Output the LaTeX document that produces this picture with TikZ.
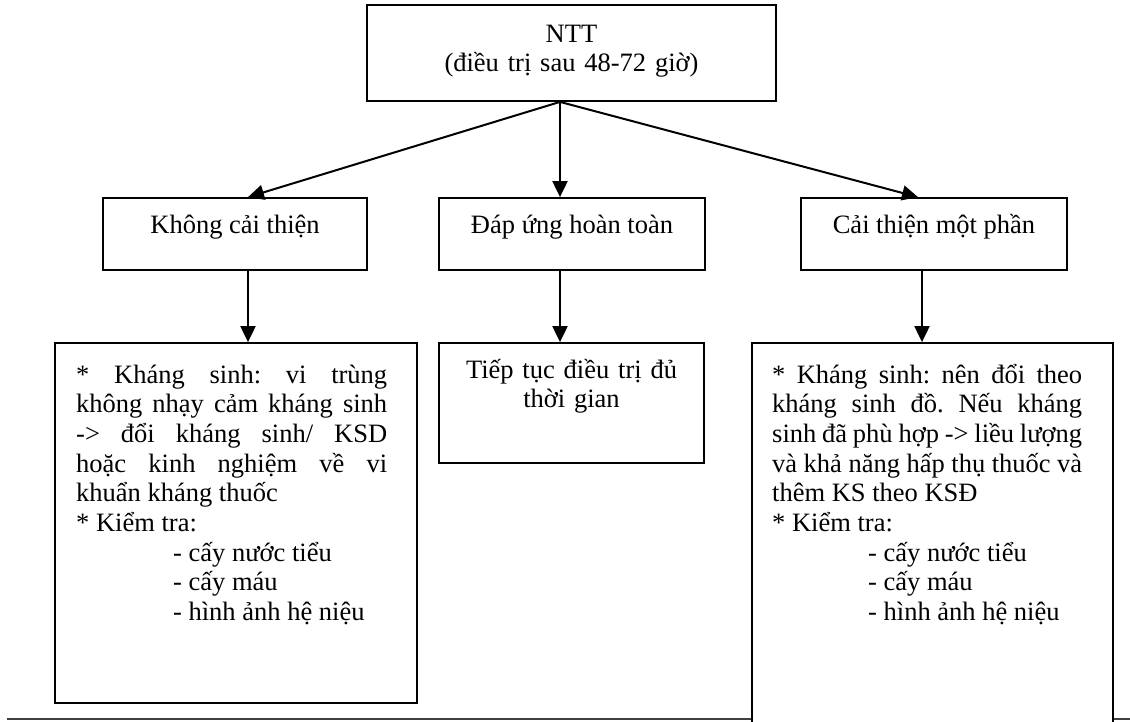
\documentclass[tikz,border=0pt]{standalone}
\usepackage{fontspec}
\setmainfont{Liberation Serif}
\usetikzlibrary{arrows.meta,calc}
\begin{document}
\begin{tikzpicture}[x=1pt,y=-1pt,
  box/.style={draw,line width=1.8pt,inner sep=0pt,fill=white},
  arr/.style={line width=2pt,-{Triangle[length=16pt,width=15pt]}},
  txt/.style={inner sep=0pt,font=\fontsize{26.5pt}{29.7pt}\selectfont\frenchspacing},
]
\useasboundingbox (0,0) rectangle (1130,721);
\begin{scope}
\clip (0,0) rectangle (1130,721);
% page rule at the bottom
\draw[line width=2pt,black!75] (7,719) -- (1130,719);
% boxes
\node[box,minimum width=409pt,minimum height=96pt] (top) at (571.5,53) {};
\node[box,minimum width=264pt,minimum height=72pt] (ka) at (235,234) {};
\node[box,minimum width=266pt,minimum height=72pt] (da) at (572,234) {};
\node[box,minimum width=266pt,minimum height=72pt] (ct) at (934,234) {};
\node[box,minimum width=362pt,minimum height=360pt] (kb) at (236,523) {};
\node[box,minimum width=265pt,minimum height=120pt] (db) at (571.5,403) {};
\node[box,minimum width=361pt,minimum height=402pt] (cb) at (932.5,544) {};
% texts
\node[txt,anchor=base,text width=400pt,align=center] (toptxt) at (571.5,42)
  {NTT\\(điều trị sau 48-72 giờ)};
\node[txt,anchor=base] (katxt) at (235,233) {Không cải thiện};
\node[txt,anchor=base] (datxt) at (572,233) {Đáp ứng hoàn toàn};
\node[txt,anchor=base] (cttxt) at (934,233) {Cải thiện một phần};
\node[txt,anchor=base,text width=260pt,align=center] (dbtxt) at (571.5,378)
  {Tiếp tục điều trị đủ\\thời gian};
\node[txt,anchor=base west,text width=311pt,align=justify] (kbtxt) at (76,383)
  {\makebox[311pt][s]{* Kháng sinh: vi trùng}\\
   \makebox[311pt][s]{không nhạy cảm kháng sinh}\\
   \makebox[311pt][s]{-> đổi kháng sinh/ KSD}\\
   \makebox[311pt][s]{hoặc kinh nghiệm về vi}\\
   khuẩn kháng thuốc\\{}%
   * Kiểm tra:\\
   \hspace*{97pt}- cấy nước tiểu\\
   \hspace*{97pt}- cấy máu\\
   \hspace*{97pt}- hình ảnh hệ niệu};
\node[txt,anchor=base west,text width=310pt,align=justify] (cbtxt) at (772,383)
  {\makebox[310pt][s]{* Kháng sinh: nên đổi theo}\\
   \makebox[310pt][s]{kháng sinh đồ. Nếu kháng}\\
   \makebox[310pt][s]{sinh đã phù hợp -> liều lượng}\\
   \makebox[310pt][s]{và khả năng hấp thụ thuốc và}\\
   thêm KS theo KSĐ\\{}%
   * Kiểm tra:\\
   \hspace*{96pt}- cấy nước tiểu\\
   \hspace*{96pt}- cấy máu\\
   \hspace*{96pt}- hình ảnh hệ niệu};
% connectors
\coordinate (src) at ($(top.south)+(-11.5,0)$);
\draw[arr] (src) -- ($(ka.north)+(13,0)$);
\draw[arr] (src) -- ($(da.north)+(-12,0)$);
\draw[arr] (src) -- ($(ct.north)+(-16,0)$);
\draw[arr] ($(ka.south)+(13,0)$) -- ($(kb.north)+(12,0)$);
\draw[arr] ($(da.south)+(-12,0)$) -- ($(db.north)+(-11.5,0)$);
\draw[arr] ($(ct.south)+(-12,0)$) -- ($(cb.north)+(-10.5,0)$);
\end{scope}
\end{tikzpicture}
\end{document}
